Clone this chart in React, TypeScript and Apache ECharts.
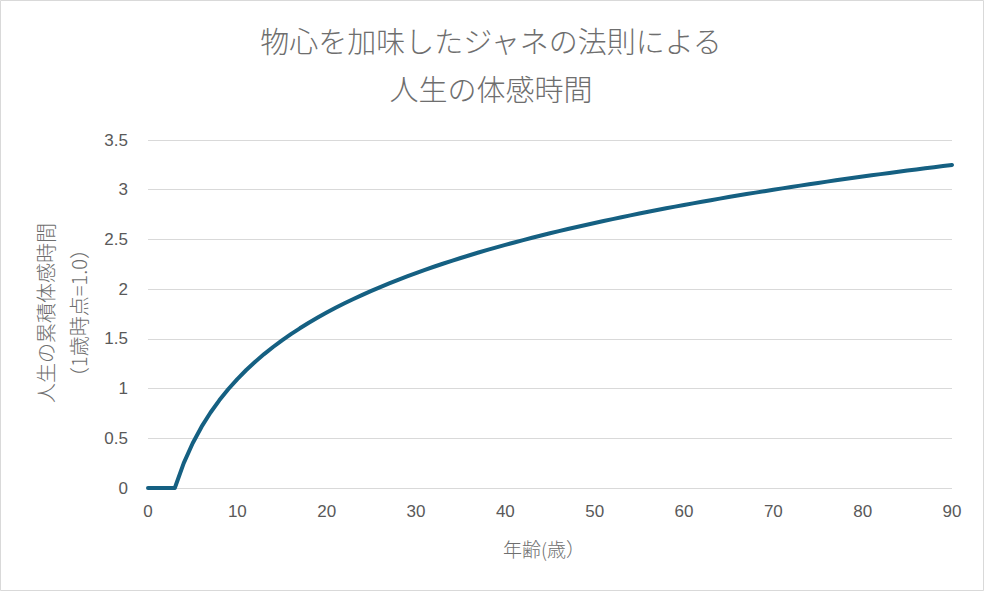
import React, { useEffect, useRef } from "react";
import * as echarts from "echarts";

const titleLines = ["物心を加味したジャネの法則による", "人生の体感時間"];
const xAxisTitle = "年齢(歳）";
const yAxisTitleLines = ["人生の累積体感時間", "（1歳時点=1.0）"];

const ages: number[] = [
  0, 1, 2, 3, 4, 5, 6, 7, 8, 9, 10, 11, 12, 13, 14, 15, 16, 17, 18, 19, 20,
  21, 22, 23, 24, 25, 26, 27, 28, 29, 30, 31, 32, 33, 34, 35, 36, 37, 38, 39, 40,
  41, 42, 43, 44, 45, 46, 47, 48, 49, 50, 51, 52, 53, 54, 55, 56, 57, 58, 59, 60,
  61, 62, 63, 64, 65, 66, 67, 68, 69, 70, 71, 72, 73, 74, 75, 76, 77, 78, 79, 80,
  81, 82, 83, 84, 85, 86, 87, 88, 89, 90,
];

const felt: number[] = [
  0, 0, 0, 0, 0.25, 0.45, 0.6167, 0.7595, 0.8845, 0.9956, 1.0956,
  1.1865, 1.2698, 1.3468, 1.4182, 1.4848, 1.5473, 1.6062, 1.6617, 1.7143, 1.7643,
  1.812, 1.8574, 1.9009, 1.9426, 1.9826, 2.021, 2.0581, 2.0938, 2.1283, 2.1616,
  2.1939, 2.2251, 2.2554, 2.2848, 2.3134, 2.3412, 2.3682, 2.3945, 2.4201, 2.4451,
  2.4695, 2.4933, 2.5166, 2.5393, 2.5615, 2.5833, 2.6045, 2.6254, 2.6458, 2.6658,
  2.6854, 2.7046, 2.7235, 2.742, 2.7602, 2.7781, 2.7956, 2.8129, 2.8298, 2.8465,
  2.8629, 2.879, 2.8949, 2.9105, 2.9259, 2.941, 2.956, 2.9707, 2.9852, 2.9995,
  3.0136, 3.0275, 3.0412, 3.0547, 3.068, 3.0812, 3.0942, 3.107, 3.1197, 3.1322,
  3.1445, 3.1567, 3.1688, 3.1807, 3.1925, 3.2041, 3.2156, 3.227, 3.2382, 3.2493,
];

const FONT = "'Noto Sans CJK JP', 'Noto Sans', sans-serif";
const LABEL_FONT = "'Liberation Sans', 'Noto Sans CJK JP', sans-serif";
const GREY = "#595959";
const TITLE_GREY = "#6e6e6e";

export default function App() {
  const ref = useRef<HTMLDivElement>(null);
  useEffect(() => {
    if (!ref.current) return;
    const chart = echarts.init(ref.current, null, { renderer: "svg" });
    chart.setOption({
      animation: false,
      backgroundColor: "#ffffff",
      grid: { left: 148, right: 32, top: 140, bottom: 103 },
      graphic: [
        {
          type: "rect",
          shape: { x: 0.5, y: 0.5, width: 983, height: 590 },
          style: { fill: "none", stroke: "#d9d9d9", lineWidth: 1 },
          silent: true,
        },
        {
          type: "text",
          x: 491,
          y: 40,
          style: {
            text: titleLines[0],
            font: `300 29px ${FONT}`,
            fill: TITLE_GREY,
            textAlign: "center",
            textVerticalAlign: "middle",
          },
        },
        {
          type: "text",
          x: 491,
          y: 88,
          style: {
            text: titleLines[1],
            font: `300 29px ${FONT}`,
            fill: TITLE_GREY,
            textAlign: "center",
            textVerticalAlign: "middle",
          },
        },
        {
          type: "text",
          x: 544,
          y: 548,
          style: {
            text: xAxisTitle,
            font: `300 19px ${FONT}`,
            fill: TITLE_GREY,
            textAlign: "center",
            textVerticalAlign: "middle",
          },
        },
        {
          type: "text",
          x: 45,
          y: 313,
          rotation: Math.PI / 2,
          style: {
            text: yAxisTitleLines[0],
            font: `300 20px ${FONT}`,
            fill: TITLE_GREY,
            textAlign: "center",
            textVerticalAlign: "middle",
          },
        },
        {
          type: "text",
          x: 78,
          y: 313,
          rotation: Math.PI / 2,
          style: {
            text: yAxisTitleLines[1],
            font: `300 20px ${FONT}`,
            fill: TITLE_GREY,
            textAlign: "center",
            textVerticalAlign: "middle",
          },
        },
      ],
      xAxis: {
        type: "value",
        min: 0,
        max: 90,
        interval: 10,
        axisLine: { show: false },
        axisTick: { show: false },
        splitLine: { show: false },
        axisLabel: {
          color: GREY,
          fontSize: 17,
          fontFamily: LABEL_FONT,
          margin: 15,
        },
      },
      yAxis: {
        type: "value",
        min: 0,
        max: 3.5,
        interval: 0.5,
        axisLine: { show: false },
        axisTick: { show: false },
        splitLine: { lineStyle: { color: "#d9d9d9", width: 1 } },
        axisLabel: {
          color: GREY,
          fontSize: 17,
          fontFamily: LABEL_FONT,
          margin: 20,
          formatter: (v: number) => String(v),
        },
      },
      series: [
        {
          type: "line",
          data: ages.map((a, i) => [a, felt[i]]),
          showSymbol: false,
          lineStyle: { color: "#156082", width: 4, cap: "round", join: "round" },
          itemStyle: { color: "#156082" },
        },
      ],
    });
    return () => chart.dispose();
  }, []);
  return (
    <div
      ref={ref}
      style={{ position: "fixed", left: 0, top: 0, width: 984, height: 591 }}
    />
  );
}
